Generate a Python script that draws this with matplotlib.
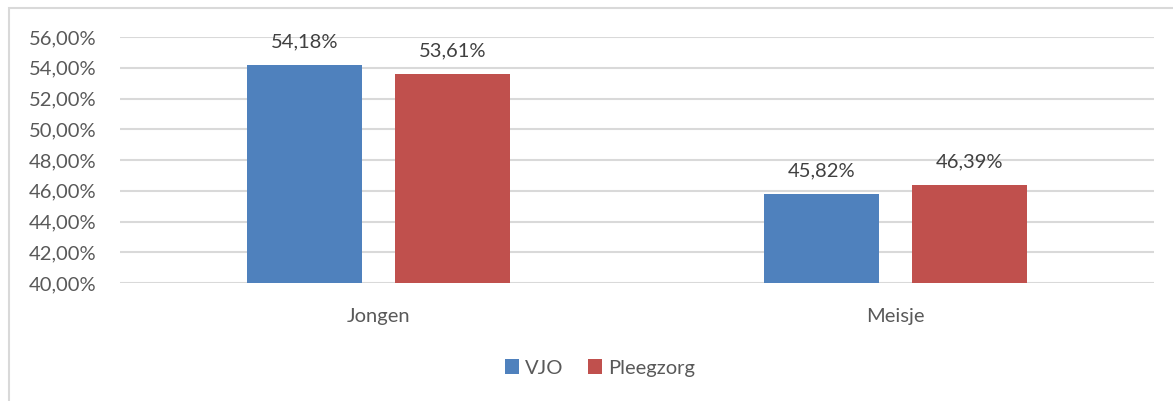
import matplotlib
matplotlib.use("Agg")
import matplotlib.pyplot as plt
from matplotlib.patches import Rectangle
from matplotlib.ticker import FuncFormatter
import numpy as np

categories = ["Jongen", "Meisje"]
series_names = ["VJO", "Pleegzorg"]
vjo = [54.18, 45.82]
pleegzorg = [53.61, 46.39]
colors = ["#4F81BD", "#C0504D"]

plt.rcParams['font.family'] = ['Lato', 'DejaVu Sans']
txt = "#595959"
fs = 14.5

fig = plt.figure(figsize=(11.73, 4.01), dpi=100)
fig.patches.append(Rectangle((9/1173, -0.1), 1.2, 1 - 8/401 + 0.1, transform=fig.transFigure,
                             fill=False, edgecolor="#D9D9D9", linewidth=1.5))
ax = fig.add_axes([120/1173, 1 - 283/401, 1034/1173, (283 - 37)/401])

x = np.arange(len(categories))
w = 0.224
off = 0.143
for vals, name, c, d in [(vjo, series_names[0], colors[0], -off), (pleegzorg, series_names[1], colors[1], off)]:
    bars = ax.bar(x + d, vals, width=w, color=c, label=name, zorder=3, bottom=0)
    for b, v in zip(bars, vals):
        ax.annotate(f"{v:.2f}%".replace(".", ","), (b.get_x() + b.get_width()/2, v),
                    xytext=(0, 10.5), textcoords="offset points", ha="center", va="bottom",
                    fontsize=fs, color="#404040")

ax.set_xlim(-0.5, 1.5)
ax.set_ylim(40, 56)
ax.set_yticks(np.arange(40, 57, 2))
ax.yaxis.set_major_formatter(FuncFormatter(lambda v, p: f"{v:.2f}%".replace(".", ",")))
ax.set_xticks(x)
ax.set_xticklabels(categories)
ax.tick_params(axis="both", length=0, labelsize=fs, labelcolor=txt)
ax.tick_params(axis="y", pad=17)
ax.tick_params(axis="x", pad=18)
ax.grid(axis="y", color="#D9D9D9", linewidth=1.5, zorder=0)
for s in ax.spines.values():
    s.set_visible(False)

leg = fig.legend(loc="center", bbox_to_anchor=(600/1173, 1 - 368/401), ncol=2, frameon=False,
                 fontsize=fs, handlelength=0.7, handleheight=0.7, handletextpad=0.3,
                 columnspacing=1.2, labelcolor=txt)

fig.savefig("out.png", dpi=100)
